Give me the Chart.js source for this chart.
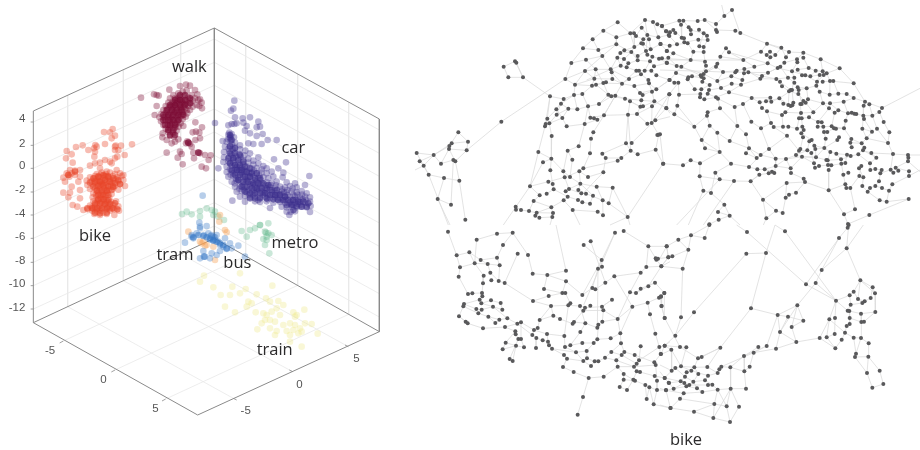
<!DOCTYPE html>
<html>
<head>
<meta charset="utf-8">
<style>
html, body { margin: 0; padding: 0; background: #fff; }
canvas { display: block; filter: blur(0.35px); }
</style>
<script src="https://cdn.jsdelivr.net/npm/chart.js@4"></script>
</head>
<body>
<canvas id="chart" width="920" height="450"></canvas>
<script>
// all values, in units of a third of a pixel
const zTicks = ["4", "2", "0", "-2", "-4", "-6", "-8", "-10", "-12"];
const zTickHeights = [366, 436, 505, 576, 645, 715, 787, 857, 927];
const floorTicks = ["-5", "0", "5", "-5", "0", "5"];
const clusterNames = ["walk", "car", "bike", "tram", "bus", "metro", "train", "bike"];

const walkPoints = [423,293,462,283,470,285,476,287,508,269,540,258,558,254,570,257,585,270,592,283,600,298,605,308,598,318,606,325,470,318,464,345,
520,285,535,280,548,275,560,272,575,285,585,295,510,295,525,295,538,290,552,288,565,292,578,302,595,300,505,308,518,305,532,303,545,300,558,302,572,310,590,315,497,318,512,318,525,315,538,312,552,312,565,318,578,320,490,330,503,328,517,328,530,325,543,323,556,325,570,330,484,342,497,340,510,338,523,338,537,335,550,335,562,340,478,352,491,352,504,350,517,350,530,348,544,347,557,350,483,364,496,362,509,362,522,360,535,360,548,358,490,375,503,374,516,372,529,372,542,370,497,386,510,384,523,384,536,380,550,378,488,400,505,396,518,396,530,392,487,412,510,408,522,410,500,420,525,425,535,418,515,430,
530,310,540,320,525,335,515,345,535,345,520,320,545,335,510,365,525,370,530,355,505,375,540,300,550,305,528,298,515,312,500,335,495,350,512,355,540,352,552,320,
534,296,546,308,522,308,508,322,528,318,542,328,518,334,505,345,530,338,548,342,496,358,516,358,532,365,512,378,526,380,504,390,520,400,558,312,568,300,560,330,
586,367,606,382,588,395,578,397,598,398,600,415,565,428,558,430,570,432,586,420,575,440,500,458,540,455,533,473,548,493,580,458,596,458,600,460,615,465,632,466,626,480,605,500,618,505,582,475,545,462,562,424];
const walkCore = [540,285,555,285,570,295,525,300,540,300,555,300,570,310,510,315,525,315,540,315,555,315,500,330,515,330,530,330,545,330,490,345,505,345,520,345,535,345,550,345,490,360,505,360,520,360,535,360,495,375,510,375,525,375,505,390,520,390,510,405,525,405,565,428,595,458];
const carPoints = [703,302,700,326,693,332,705,352,728,355,750,352,730,368,740,378,775,365,770,382,780,380,703,372,685,376,695,372,710,370,645,369,735,392,750,400,770,408,788,402,803,420,830,420,668,423,745,430,760,432,785,432,822,478,858,487,835,505,928,528,697,602,655,505,
688,398,695,402,692,410,685,404,702,412,680,425,692,422,705,428,720,436,675,440,690,438,705,442,720,448,736,452,672,456,688,454,703,458,718,462,733,466,750,460,672,472,688,470,700,474,715,476,730,480,745,476,760,482,775,472,670,486,685,484,700,488,715,490,730,492,745,488,760,494,775,490,790,498,680,500,695,498,710,502,725,504,740,500,755,506,770,504,785,508,800,505,680,516,695,514,710,518,725,516,740,518,755,516,770,520,785,518,800,520,815,515,850,518,685,530,700,528,715,532,730,530,745,532,760,530,775,534,790,532,805,534,820,530,848,532,695,545,710,543,725,547,740,545,755,547,770,545,785,549,800,547,815,549,830,545,860,547,885,550,705,560,720,558,735,562,750,560,765,562,780,560,795,564,810,562,825,564,840,560,855,562,870,558,890,562,915,555,710,575,725,573,740,577,755,575,770,577,785,575,800,579,815,577,830,579,845,575,860,577,875,575,890,577,905,573,920,580,720,590,735,588,750,592,765,590,780,592,795,590,810,594,825,592,840,594,855,590,870,592,885,590,900,592,915,590,930,592,735,605,765,604,780,606,800,604,820,608,840,606,855,608,870,606,885,608,900,606,915,608,930,605,810,624,845,620,860,622,875,620,890,622,905,620,920,622,932,618,860,635,872,636,885,634,930,636,868,645,
700,480,712,510,728,525,742,540,758,555,772,570,788,585,803,598,818,585,832,598,848,600,862,585,878,600,893,612,908,598,720,500,735,515,750,530,765,540,780,552,795,570,810,570,825,573,838,585,852,578,866,610,880,615,705,495,690,490,700,520,715,540,730,555,745,570,760,585,775,600,880,585,895,600,
692,524,708,536,722,520,736,538,750,552,766,552,782,540,798,556,812,555,828,556,846,568,862,570,878,566,892,584,906,584,918,600,902,614,888,600,874,612,858,598,842,582,826,586,804,584,790,578,776,566,762,570,748,584,732,570,718,566,704,550,690,508,706,506,718,510,732,510,748,520,762,512,778,526,694,464,708,470,722,470,686,446,698,448,690,414,684,418,696,432];
const carCore = [690,405,695,420,690,440,705,445,690,460,705,460,720,465,685,475,700,475,715,480,730,485,690,490,705,495,720,495,735,500,750,505,695,510,710,510,725,510,740,515,755,520,770,520,705,525,720,525,735,530,750,530,765,535,780,535,715,540,730,545,745,545,760,550,775,550,790,550,805,555,725,560,740,560,755,565,770,565,785,565,800,565,815,570,830,570,735,575,750,580,765,580,780,580,795,580,810,585,825,585,840,585,855,590,750,595,765,595,780,595,800,595,820,598,835,600,850,600,865,600,880,600,895,605,910,605,925,610,860,615,875,615,890,618,905,620,920,620,880,630];
const bikePoints = [312,396,338,387,330,397,345,407,335,415,396,433,363,437,347,437,355,450,374,465,286,435,282,445,248,436,228,441,200,453,215,463,198,475,218,488,265,450,315,432,
270,497,285,490,300,488,315,480,330,485,345,475,352,470,335,490,345,450,345,440,360,520,350,510,370,525,375,558,320,515,300,505,283,470,285,455,290,440,
190,533,200,520,210,510,225,512,240,510,215,520,205,525,225,525,195,545,240,530,235,545,208,530,190,578,210,578,240,570,205,592,240,595,218,615,232,620,215,560,
290,522,305,518,318,522,330,518,345,522,270,532,285,528,298,532,312,528,325,532,338,528,352,532,365,528,260,542,275,544,288,540,300,544,315,540,328,544,340,540,355,544,370,540,262,555,278,553,290,557,305,553,318,557,332,553,345,557,360,553,270,567,285,565,298,569,312,565,325,569,340,565,355,569,280,580,295,578,308,582,322,578,335,582,278,592,290,590,303,594,316,590,328,594,280,604,293,602,306,606,320,602,333,606,348,604,270,617,285,615,298,619,312,615,325,619,340,615,355,619,250,630,263,628,277,632,290,628,303,632,317,628,330,632,343,628,357,632,283,642,300,645,320,642,343,645,
295,530,310,535,322,528,305,545,318,548,330,538,295,550,310,558,325,562,300,565,315,572,305,585,318,585,295,600,312,598,300,610,318,610,285,622,305,625,322,622,340,625,275,622,292,635,310,638,
302,524,316,530,282,536,296,542,336,548,348,538,284,548,300,555,312,550,338,560,292,572,306,575,320,572,288,584,300,590,312,604,326,608,290,610,278,625,298,628,328,628];
const bikeCore = [280,535,295,530,310,525,325,530,340,535,355,540,270,548,285,545,300,545,315,540,330,545,345,550,360,552,280,560,295,558,310,555,325,558,340,560,290,572,305,572,320,572,335,570,295,585,310,585,325,585,295,598,310,598,325,600,285,610,300,610,315,612,330,612,345,610,262,625,277,625,292,625,307,625,322,625,337,625,352,628,285,638,300,640,320,638,205,525,225,515];
const busPoints = [608,587,598,668,620,678,600,680,555,728,575,710,580,715,590,700,600,685,612,705,625,700,630,715,640,710,645,720,650,705,655,725,660,735,670,740,680,747,695,745,715,737,690,730,675,715,600,775,615,770,610,753,630,775,635,760,650,765,660,753,735,770,575,705,635,705,645,712,640,720,632,708];
const busCore = [580,712,595,705,610,708,620,712,630,718,640,722,650,725,660,730,670,735,680,745,612,770];
const tramPoints = [660,645,658,665,565,695,600,725,610,725,620,735,605,730,615,737,675,690,680,697,645,780,640,740];
const metroPoints = [546,642,560,635,575,643,600,633,620,625,635,630,645,635,640,645,655,650,672,660,600,650,780,675,805,670,725,693,740,710,750,690,765,685,780,675,795,695,805,700,815,705,790,717,800,720,795,735,808,760,800,710,798,698];
const trainPoints = [612,827,600,845,640,862,720,820,817,857,697,860,737,867,662,885,690,885,720,880,770,883,798,895,745,905,755,910,740,920,675,920,705,937,767,937,810,905,835,903,850,915,790,940,800,945,815,935,830,925,840,945,880,937,890,945,913,929,795,960,810,960,785,970,825,965,850,975,870,970,885,975,900,985,915,970,935,972,953,1001,772,988,860,993,880,990,895,1000,870,1005,905,995,825,1005,810,985,830,993,885,950,870,1025,905,1040];

const nodesTopLeft = [623,67,580,92,548,118,619,112,619,133,519,145,565,150,577,168,528,179,484,189,661,100,672,100,678,108,695,83,705,60,729,66,742,73,756,78,769,94,776,105,712,105,717,118,700,118,745,112,752,132,694,130,699,131,771,153,673,141,664,156,643,151,631,159,622,173,642,177,655,190,632,197,650,202,683,168,683,181,708,153,712,164,722,148,727,170,720,184,747,176,771,189,732,199,679,212,687,212,693,223,704,212,724,212,739,226,715,240,717,250,778,240,602,208,605,217,557,208,525,213,466,237,553,236,607,237,657,237,495,254,546,257,558,254,580,249,588,247,636,251,673,258,726,275,739,268,778,283,690,279,698,285,420,289,492,285,517,282,595,284,604,289,616,287,461,297,453,311,645,296,660,304,694,301,733,304,567,312,534,319,439,328,475,326,502,328,691,320,699,319,726,319,769,324,440,344,582,346,654,344,681,342,412,356,457,354,541,353,552,355,562,359,418,370,407,372,405,379,470,379,524,372,736,361,725,369,712,371,550,397,425,408,746,404,742,405,543,416,506,439,648,430,665,429,385,456,473,452,540,460,662,452,683,463,737,449,577,461,587,474,634,474,623,482,424,476,487,479,399,487,759,491,421,511,460,514,508,514,520,505,580,517,464,532,480,531,534,531,415,545,428,552,511,551,360,559,431,568,560,560,608,563,477,567,467,574,505,570,514,580,528,581,410,581,389,586,473,590,549,587,461,601,504,600,371,603,517,607,540,611,578,601,596,610,424,622,317,620,318,629,333,630,357,633,380,638,488,630,429,639,563,635,376,647,388,653,427,651,579,646,653,651,
145,397,174,425,125,430,118,438,117,447,170,451,71,465,20,459,29,484,41,497,93,491,130,480,136,484,56,524,102,534,148,542,83,597,123,614,166,659,315,184,319,188,281,200,295,232,339,232,274,365];
const nodesTopRight = [216,30,193,48,168,72,134,60,113,63,58,62,70,62,63,74,6,78,86,82,92,90,117,89,168,90,171,96,226,92,241,99,18,94,30,97,40,90,46,99,28,108,93,103,131,100,141,107,143,120,65,113,72,115,73,127,83,130,115,119,118,139,131,141,131,156,100,155,1,132,29,137,51,133,20,153,40,160,6,175,25,173,20,188,92,180,181,170,198,145,207,157,135,185,138,197,172,191,168,200,250,180,303,155,321,131,364,143,387,156,430,158,320,165,330,155,331,172,346,165,378,172,373,188,323,190,411,178,412,187,430,173,482,178,539,205,50,198,64,200,353,204,361,200,283,200,230,212,226,217,253,207,265,217,252,220,189,216,138,214,131,222,122,226,124,230,48,219,85,232,83,238,96,229,29,240,43,248,55,248,131,235,127,245,172,243,214,229,247,240,215,251,243,254,306,228,301,236,324,218,396,214,413,209,446,204,467,212,488,214,500,220,479,225,491,225,426,226,436,226,451,229,403,233,384,233,349,237,360,245,403,248,471,245,488,245,510,243,520,243,581,250,149,255,104,268,124,268,147,270,183,264,207,277,28,283,57,284,121,282,143,281,120,292,133,298,168,292,174,296,275,294,366,259,392,270,396,270,387,274,413,262,416,270,415,282,440,265,469,257,479,275,509,284,535,281,560,282,581,294,331,293,358,295,299,307,318,304,334,305,430,303,444,298,425,312,437,308,489,310,510,310,551,305,615,305,611,317,628,313,666,324,249,312,224,321,52,317,19,325,180,325,306,324,321,334,370,311,385,315,392,318,400,308,397,316,421,312,507,325,524,338,535,331,564,340,575,338,583,341,589,342,610,347,637,347,658,336,143,337,141,347,43,343,376,337,366,345,423,339,460,337,447,352,425,355,417,355,557,362,671,366,612,357,103,380,149,377,232,378,274,365,333,369,341,381,369,380,385,380,411,386,427,380,431,390,474,366,485,367,473,380,490,380,515,379,522,385,528,386,552,385,492,396,502,396,607,386,636,395,651,386,688,397,172,398,258,403,303,385,381,407,424,400,429,412,0,403,125,420,209,423,455,420,448,424,537,412,532,420,497,416,574,417,620,415,571,428,605,430,684,429,135,445,267,445,327,447,421,447,417,452,463,437,466,447,442,451,454,459,493,444,575,442,613,443,609,451,634,459,511,456,529,461,179,456,258,460,302,465,290,474,408,465,468,472,426,470,503,481,499,480,543,478,561,464,572,468,595,463,649,473,699,462,744,465,745,473,744,484,347,476,378,477,92,481,10,491,69,496,120,490,213,491,267,501,292,508,347,498,314,508,392,505,393,519,462,490,465,503,477,498,504,495,514,496,544,491,556,489,604,498,597,505,630,490,631,510,646,507,665,510,692,509,700,518,715,512,707,503,747,514,506,510,550,524,565,518,598,528,610,532,661,520,298,524,326,520,343,519,336,515,166,518,119,529,179,538,222,543,272,544,431,536,435,546,380,549,607,558,657,544,646,558,630,564,623,575,666,564,697,553,687,572,747,528,556,553,559,564,571,564,506,571,130,572,153,579,408,578,387,584,377,593,309,599,659,601,680,605,746,597,193,614,174,636,209,647,176,659,148,673,319,655,348,632,368,639,585,628,552,643,628,645,564,672];
const nodesBottomLeft = [114,20,200,44,261,26,308,23,279,60,140,91,178,82,323,86,354,90,212,105,261,98,194,115,233,117,269,121,150,127,241,143,221,152,146,155,244,166,266,168,284,174,219,175,368,146,412,150,468,137,468,169,402,192,174,207,187,205,216,204,217,214,209,224,214,235,243,226,162,237,160,244,272,234,249,245,199,252,215,254,277,254,205,265,369,228,416,213,457,204,466,204,423,243,481,235,475,241,510,243,517,210,147,274,235,275,292,280,268,284,167,290,173,295,256,294,219,310,285,306,389,285,430,272,450,282,322,296,333,292,316,319,317,328,372,315,383,309,367,330,411,327,379,339,325,342,333,342,398,346,414,350,287,353,417,361,318,362,342,367,278,373,378,369,426,371,463,333,465,366,481,361,511,321,517,354,526,295,488,296,492,291,551,354,562,343,602,340,562,308,565,299,577,290,623,282,631,325,633,355,604,381,635,390,643,381,498,382,530,378,462,390,471,401,299,402,308,408,531,400,520,408,554,409,565,409,585,398,619,406,623,425,543,423,459,426,491,441,536,459,581,455,519,516,503,569,521,60,542,49,615,23,641,18,575,105,564,131,576,125,613,154,586,173,547,189,556,193,606,224,525,248,520,257,541,242,576,245,580,256,660,202,678,204,692,191,692,143,709,126,715,64,770,64,737,100,744,101,739,104,775,97,754,124,735,173,715,184,763,204,753,214,747,218,713,233,755,243,667,245,720,268,764,279,736,326,692,364,748,366,764,362,752,387,674,390,687,406,680,416,672,425,733,412,737,420,680,439,690,441,641,447,641,464,670,464,675,467,734,453,764,459,741,467,776,473,706,480,718,487,629,486,651,495,741,495,768,495,710,522,731,538,781,549];
const nodesBottomRight = [148,0,261,21,375,19,563,8,566,0,93,31,55,44,134,39,537,39,560,70,20,64,85,74,259,86,318,84,25,97,37,94,4,124,68,131,485,135,601,166,438,178,467,174,638,187,581,200,569,211,645,205,13,204,3,215,594,222,632,219,528,227,614,229,607,234,572,239,412,241,4,243,273,250,102,262,563,257,568,258,646,261,353,270,603,266,384,275,63,277,14,279,569,279,525,279,508,283,430,287,604,291,612,290,569,297,560,303,395,306,360,321,555,323,524,327,500,337,479,339,46,332,581,338,603,339,545,344,409,351,626,355,14,362,60,366,79,367,181,368,320,363,295,366,348,371,526,370,34,374,281,383,3,387,588,386,252,393,585,396,625,395,125,396,114,400,269,425,184,425,178,433,173,444,63,424,103,427,46,429,35,437,142,426,211,427,253,439,94,437,80,442,115,447,144,452,75,455,659,437,621,444,14,459,135,466,62,469,100,470,27,474,73,474,157,479,144,480,88,480,79,484,670,477,41,491,111,490,18,496,173,494,212,491,258,491,637,488,127,501,71,505,60,521,163,537,200,544,237,545,32,549,102,560,160,579,210,591];

const linksTopLeft = [[281,200,315,184,339,232,295,232,281,200],[319,188,339,232,420,289],[170,451,274,365,466,237,525,213],[20,459,71,465,125,430,174,425,170,451,136,484,148,542,166,659],[145,397,118,438,117,447,136,484,130,480,93,491,71,465,29,484,41,497,56,524,102,534,148,542],[20,459,56,524,115,675],[15,510,41,497,71,465,118,438],[93,491,117,447,170,451],[145,397,174,425],[102,534,83,597,123,614,130,480],[83,597,120,675],
[420,289,412,356,405,379,385,456,360,559,318,620,280,675],[420,289,461,297,439,328,412,356],[461,297,492,285,517,282,534,319,524,372,506,439,473,452,487,479],[466,237,495,254,492,285,453,311,440,344,418,370,425,408,424,476,421,511,428,552],[440,344,475,326,502,328,534,319,541,353,582,346,654,344,681,342,691,320],[457,354,470,379,524,372,562,359,582,346,616,287],[418,370,457,354,439,328],[475,326,457,354],[534,319,567,312,595,284,580,249,557,208,528,179,484,189,466,237],[484,189,519,145,548,118,580,92,623,67,661,100,705,60,729,66,769,94],[580,92,619,112,661,100],[548,118,565,150,577,168,528,179],[519,145,565,150,619,133,577,168,525,213,495,254,546,257,580,249,636,251,657,237],[619,112,619,133,664,156,631,159],[577,168,602,208,605,217,607,237,636,251,673,258,690,279],[525,213,557,208,602,208,632,197,650,202,679,212],[553,236,546,257,517,282],[553,236,607,237],[604,289,645,296,694,301,733,304],[558,254,595,284],[636,251,616,287,582,346,550,397,543,416,540,460,520,505,508,514,511,551,505,570],[654,344,662,452,648,430,577,461],[665,429,735,361,769,324],[654,344,648,430],[733,304,726,319,725,369,746,404],[691,320,645,296],[681,342,726,319,778,283],[739,268,690,279],[726,275,733,304],
[577,461,587,474,634,474,662,452,683,463,737,449,746,404],[587,474,580,517,534,531,508,514,464,532,415,545],[623,482,520,505],[759,491,653,651],[737,449,759,491],[580,517,510,590],[385,456,424,476],[399,487,424,476,460,514,464,532,477,567,511,551,560,560,608,563,596,610,653,651],[399,487,360,559,389,586,371,603,357,633,333,630,317,620],[415,545,360,559],[410,581,431,568,428,552],[431,568,473,590,461,601,424,622,429,639,427,651],[371,603,424,622,380,638,376,647],[473,452,460,514,480,531,511,551,549,587,540,611,517,607,504,600,473,590],[487,479,480,531],[477,567,514,580,528,581,578,601,596,610],[560,560,578,601,579,646,563,635,488,630,461,601],[608,563,653,651,660,675],[420,289,405,379],[488,630,510,675],[427,651,420,675],[653,651,600,675],[388,653,427,651],[333,630,380,638,429,639],
[661,100,673,141,664,156,642,177,622,173,631,159,643,151,673,141,694,130,712,105,705,60],[678,108,700,118,694,130,708,153,722,148,717,118,712,105],[695,83,712,105,745,112,776,105],[699,131,722,148,752,132,771,153],[745,112,752,132],[683,168,664,156],[683,168,708,153,712,164,727,170,747,176,771,189],[683,181,720,184,732,199,771,189],[642,177,655,190,650,202],[632,197,622,173],[655,190,683,181,683,168],[679,212,704,212,724,212,739,226,778,240],[687,212,693,223,715,240,717,250,726,275],[704,212,720,184],[657,237,693,223],[673,258,717,250,739,268,778,240],[602,208,657,237],[636,251,679,212],[530,240,602,208],[694,301,698,285],[660,304,691,320],[699,319,733,304,769,324,780,340],[712,371,681,342],[736,361,780,350],[725,369,778,283],
[712,371,725,369,736,361],[698,285,739,268],[694,301,691,320],[660,304,654,344],[645,296,616,287,595,284],[604,289,567,312],[502,328,492,285],[541,353,552,355,562,359],[453,311,475,326],[605,217,636,251],[588,247,558,254],[495,254,553,236,557,208],[525,213,553,236],[622,173,602,208],[642,177,632,197],[664,156,683,181],[708,153,712,105],[729,66,745,112],[695,83,678,108],[672,100,673,141],[769,94,776,105]];
const linksTopRight = [[216,30,193,48,168,72,134,60,113,63,70,62,58,62,6,78],[193,48,185,15],[216,30,240,99],[168,72,171,96,168,90,226,92,241,99,321,131,387,156,430,158,482,178,539,205,581,250,615,305,666,324,780,265],[134,60,168,90],[70,62,86,82,92,90,131,100,143,120,115,119,73,127,65,113,40,90,18,94,6,78],[63,74,65,113],[117,89,141,107],[131,100,118,139,131,141,131,156,100,155],[143,120,131,141],[28,108,51,133,29,137,20,153,40,160,25,173,20,188,50,198],[1,132,29,137],[51,133,83,130,100,155,92,180,64,200,48,219],[40,160,92,180,135,185],[131,156,135,185,138,197,122,226,85,232,48,219],[198,145,181,170,172,191,138,214],[198,145,207,157,250,180,303,155,321,131,364,143,378,172,373,188,353,204,324,218,306,228],[303,155,320,165,330,155,346,165,331,172,323,190,353,204],[364,143,346,165],[250,180,283,200,253,207,230,212,189,216,168,200],[283,200,323,190],[181,170,250,180],[207,157,323,190],[0,180,100,180,250,180],[0,210,138,214,189,216,265,217,324,218],[430,158,411,178,412,187,396,214,403,233,384,233,349,237,306,228],[387,156,378,172],[430,173,446,204,467,212,488,214,500,220,510,243,581,250],[482,178,488,214,479,225,471,245,469,257,479,275,509,284,535,281,560,282,581,294,615,305],[539,205,500,220],[413,209,426,226,451,229,479,225],[396,214,436,226,471,245],[361,200,384,233,403,248,413,262,440,265,469,257],[349,237,366,259,387,274,415,282,437,308],[360,245,392,270,416,270,440,265],[403,233,396,270,358,295,318,304,299,307],
[29,240,43,248,55,248,28,283,19,325,43,343],[55,248,57,284,52,317,43,343,103,380,125,420,135,445,179,456],[48,219,29,240,0,260],[85,232,96,229,131,235,127,245,149,255,124,268,104,268,83,238],[131,222,172,243,183,264,207,277,275,294,299,307],[172,243,214,229,247,240,243,254,215,251,183,264],[226,217,214,229],[124,268,121,282,120,292,133,298,143,281,147,270,149,255],[121,282,57,284],[133,298,168,292,174,296,180,325,143,337,141,347,149,377,172,398,179,456],[174,296,224,321,249,312,275,294],[52,317,103,380],[207,277,168,292],[141,347,103,380],[224,321,232,378,258,403,267,445,258,460],[249,312,274,365,303,385,333,369,341,381,369,380,385,380,411,386,427,380,431,390,424,400,429,412,421,447],[306,324,321,334,333,369],[299,307,306,324],[318,304,334,305,358,295,370,311,385,315,392,318,400,308,397,316,376,337,366,345,369,380],[331,293,334,305],[430,303,444,298,489,310,510,310,551,305,581,294],[425,312,421,312,423,339,417,355,411,386],[437,308,460,337,447,352,425,355,427,380],[489,310,507,325,524,338,535,331,564,340,575,338,583,341,589,342,610,347,637,347,658,336,666,324],[510,310,535,331],[551,305,564,340],[611,317,610,347,607,386,620,415,605,430,613,443],[628,313,637,347,651,386,684,429,699,462,744,465,780,465],[658,336,671,366,688,397,684,429],[612,357,636,395,620,415],[557,362,552,385,515,379,490,380,473,380,474,366,447,352],[485,367,490,380,492,396,497,416,493,444],[502,396,522,385,528,386,552,385,574,417,571,428,575,442],[537,412,532,420,493,444,466,447,454,459],[455,420,448,424,442,451,417,452,408,465,378,477,347,476,302,465],[463,437,466,447,468,472,426,470,408,465],[381,407,341,381],[381,407,327,447,347,476,347,498],[424,400,455,420,463,437,493,444,511,456,529,461,561,464,572,468,595,463,613,443],[258,460,290,474,302,465,267,501,292,508,314,508,336,515,343,519,326,520,298,524,272,544],[327,447,302,465],[290,474,267,445,209,423,172,398],[213,491,267,501],[92,481,69,496,10,491],[92,481,120,490,119,529,179,538,222,543,272,544,298,524],[120,490,179,456,213,491,166,518,179,538],[125,420,179,456],[0,403,10,491],[347,498,392,505,393,519,431,536,435,546,380,549,377,593,387,584,408,578,435,546],[392,505,426,470],[347,498,378,477,426,470,462,490,465,503,477,498,504,495,514,496,544,491,556,489,561,464],[468,472,503,481,499,480,514,496,506,510,506,571],[543,478,529,461],[503,481,543,478,572,468],[544,491,550,524,556,553,559,564,571,564,598,528,604,498,597,505,610,532,607,558,623,575,630,564,646,558,657,544,661,520,665,510,646,507,631,510,630,490,649,473,634,459,609,451],[565,518,550,524],[630,490,595,463],[692,509,700,518,715,512,707,503,747,514,747,528,697,553,687,572,666,564,646,558],[699,462,692,509,661,520],[744,484,707,503],[745,473,744,484,780,515],[747,528,780,510],[435,546,506,571,556,553],[506,571,552,643,564,672],[571,564,585,628,552,643],[659,601,680,605,746,597],[687,572,680,605],[623,575,659,601],[746,597,628,645,564,672],[130,572,153,579,193,614,209,647,176,659,148,673],[119,529,130,572,85,675],[166,518,153,579],[193,614,174,636,209,647,240,675],[272,544,309,599,319,655,310,675],[380,549,309,599,348,632,368,639,377,593],[319,655,348,632],[222,543,130,675],[179,538,50,675],
[6,175,92,180],[25,173,50,198,131,222],[64,200,122,226],[168,200,131,222],[189,216,172,243],[230,212,214,229],[252,220,247,240],[265,217,306,228],[253,207,301,236],[243,254,301,236],[207,277,243,254],[301,236,349,237],[324,218,361,200],[373,188,411,178],[353,204,396,214],[413,209,446,204],[467,212,451,229],[491,225,471,245],[488,245,520,243,535,281],[510,243,509,284],[479,275,489,310],[440,265,444,298],[416,270,425,312],[396,270,400,308],[387,274,385,315],[331,293,318,304],[275,294,331,293],[358,295,392,318],[321,334,366,345],[376,337,423,339,460,337,489,310],[507,325,474,366],[524,338,515,379],[557,362,564,340],[552,385,557,362],[607,386,636,395],[605,430,571,428],[574,417,605,430],[620,415,684,429],[609,451,649,473],[634,459,699,462],[543,478,544,491],[511,456,503,481],[493,444,468,472],[454,459,462,490],[442,451,408,465],[426,470,468,472],[378,477,392,505],[314,508,347,498],[343,519,347,498],[267,445,302,465],[303,385,327,447],[381,407,417,452],[232,378,209,423],[149,377,125,420],[180,325,232,378],[143,281,168,292],[183,264,147,270]];
const linksBottomLeft = [[114,20,140,91,150,127,146,155,174,207],[200,44,261,26,308,23,279,60,261,98,269,121,266,168],[200,44,194,115,221,152,219,175,216,204],[140,91,178,82,212,105,261,98],[178,82,194,115,233,117,241,143,266,168,284,174],[150,127,194,115],[212,105,233,117,269,121],[323,86,284,174,369,228],[354,90,368,146,412,150,468,137],[354,90,308,23],[412,150,402,192,457,204,468,169,412,150],[468,137,438,0],[468,169,517,210,575,105,615,23],[416,213,369,228,423,243,475,241,510,243,525,248,576,245,606,224],[416,213,457,204,466,204,481,235],[517,210,547,189,556,193,586,173,613,154,692,143,709,126,715,64,770,64],[575,105,564,131,547,189],[576,125,564,131,562,308],[521,60,575,105,576,125],[542,49,586,173],[615,23,521,240],[641,18,715,64],
[174,207,187,205,216,204,217,214,209,224,214,235,243,226,272,234,277,254,249,245,215,254,199,252,162,237,160,244,147,274,167,290,173,295,219,310,285,306,322,296,333,292,372,315,411,327,414,350],[162,237,209,224],[160,244,205,265,235,275,268,284,292,280,322,296],[214,235,249,245,292,280],[147,274,173,295],[205,265,215,254],[256,294,268,284],[235,275,256,294],[285,306,316,319,317,328,325,342,333,342,333,292],[316,319,287,353,278,373,318,362,342,367,333,342],[299,402,308,408,318,362],[287,353,318,362],[325,342,299,402],[372,315,383,309,389,285,430,272,450,282,488,296,492,291,526,295,562,308],[367,330,379,339,398,346,414,350,417,361,426,371,462,390,471,401,459,426,491,441,536,459,581,455,623,425],[367,330,372,315],[379,339,378,369],[389,285,423,243,430,272],[322,296,367,330],[475,241,463,333,465,366,481,361,511,321,526,295],[463,333,411,327],[510,243,526,295],[481,361,517,354,551,354,562,343,602,340,631,325,623,282,580,256,520,257,488,296],[465,366,498,382,530,378,551,354],[426,371,498,382,520,408],[530,378,531,400,520,408],[471,401,520,408,543,423,554,409,565,409,585,398,604,381,635,390,619,406,623,425,641,447,641,464,629,486],[531,400,554,409],[536,459,519,516,503,569],[585,398,619,406],[562,343,565,299,577,290,623,282],[541,242,520,257],[606,224,576,245,580,256,577,290],[613,154,667,245,623,282],[660,202,678,204,692,191,735,173,763,204,753,214,755,243,764,279],[660,202,623,282],[678,204,715,184,735,173],[692,143,660,202],[709,126,754,124,737,100,715,64],[770,64,775,97,754,124,780,110],[739,104,744,101,775,97],[715,184,754,124],[713,233,667,245,631,325,633,355,643,381,674,390,687,406,680,416,672,425,680,439,690,441,734,453,764,459,776,473],[713,233,747,218,753,214],[720,268,736,326,748,366,752,387,733,412,737,420,741,467,741,495,731,538,781,549],[720,268,713,233],[692,364,687,406,748,366,764,362,780,350],[633,355,604,381],[674,390,733,412],[623,425,672,425],[641,447,670,464,675,467,706,480,718,487,741,495,768,495],[651,495,670,464],[629,486,651,495],[680,439,670,464],[710,522,718,487,731,538],[710,522,706,480],[768,495,781,549],[641,464,675,467],[619,406,672,425,737,420],[635,390,680,416]];
const linksBottomRight = [[148,0,93,31,55,44,20,64,25,97],[134,39,93,31,85,74,68,131,63,277,46,332,14,362],[55,44,85,74,37,94,25,97,4,124,68,131],[148,0,134,39],[261,21,230,0],[261,21,438,178,528,227],[375,19,345,0],[375,19,528,227],[318,84,345,0],[318,84,259,86,102,262,46,332],[318,84,273,250,353,270,384,275,430,287,412,241,353,270],[273,250,181,368,114,400,60,366],[563,8,537,39,485,135,467,174,412,241,360,321,348,371,281,383,184,425],[566,0,560,70,601,166,581,200,569,211,528,227],[485,135,560,70,610,0],[537,39,438,178],[467,174,528,227,508,283],[601,166,638,187,645,205,646,261,612,290],[601,166,594,222,614,229,632,219,638,187],[581,200,594,222,607,234,572,239,563,257,568,258,569,279,569,297,560,303],[601,166,645,205],[528,227,563,257,603,266,604,291],[528,227,525,279,524,327,500,337,508,283,555,323,581,338,588,386,585,396,625,395,626,355,603,339,604,291],[569,211,572,239],[603,266,646,261],[569,279,604,291],[479,339,508,283],[479,339,409,351,348,371],[409,351,395,306,430,287],[384,275,360,321,409,351],[353,270,360,321],[395,306,412,241],[500,337,526,370,545,344,555,323],[479,339,526,370],[581,338,603,339],[625,395,621,444,637,488,670,477,659,437,625,395],[585,396,621,444],[603,339,588,386],[560,303,555,323],
[353,270,320,363,252,393,211,427,184,425],[295,366,252,393],[320,363,281,383,269,425,253,439,258,491],[252,393,253,439,211,427,212,491,258,491],[181,368,125,396,114,400,103,427,63,424,46,429,35,437,14,459],[181,368,142,426,173,444,144,452,135,466,157,479,173,494,212,491],[178,433,184,425],[20,64,0,100],[14,279,13,204,3,215,4,243,14,279,60,366],[14,362,60,366,79,367,63,424],[34,374,14,362,3,387],[34,374,63,424,94,437,80,442,75,455,62,469,73,474,79,484,88,480,100,470,115,447,103,427],[46,429,75,455,100,470,135,466],[94,437,144,452],[142,426,103,427],[27,474,62,469,14,459,0,440],[27,474,41,491,18,496,0,490],[41,491,79,484,111,490,127,501,71,505,60,521,32,549,0,540],[88,480,144,480,157,479],[18,496,71,505],[60,521,163,537,173,494,127,501],[173,494,200,544,212,491,237,545,210,591,200,544,163,537,160,579,210,591],[32,549,102,560,160,579],[102,560,163,537],[212,491,160,579],[0,420,35,437],[0,390,34,374],[34,374,35,437],[100,470,111,490],[73,474,41,491]];

const frameLines = [[100,333,643,84,1138,357,1138,995,593,1245,100,968,100,333],[643,84,643,715],[100,968,643,715,1138,995]];
const floorGrid = [[190,1023,737,768],[345,1110,893,856],[497,1197,1046,943],[700,1195,203,920],[878,1115,370,842],[1045,1040,542,762]];
const wallGrid = [[203,286,203,920],[370,209,370,842],[542,130,542,762],[737,136,737,768],[893,222,893,856],[1046,306,1046,943]];
const floorTickMarks = [[190,1023,179,1029],[345,1110,334,1116],[497,1197,486,1203],[700,1195,710,1200],[878,1115,868,1110],[1045,1040,1035,1035]];

const pairs = (flat, dx = 0, dy = 0) => {
    let out = [];
    for (let i = 0; i < flat.length; i += 2) {
        out.push({ x: flat[i] + dx, y: flat[i + 1] + dy });
    }
    return out;
};

const joinLines = (lines, dx = 0, dy = 0) => {
    let out = [];
    lines.forEach((line) => {
        out.push(...pairs(line, dx, dy));
        out.push({ x: NaN, y: NaN });
    });
    return out;
};

const zGrid = zTickHeights.map((y) => [100, y, 643, y - 249, 1138, y + 24]);
const zTickMarks = zTickHeights.map((y) => [92, y, 100, y]);

const cloud = (flat, color) => ({
    data: pairs(flat),
    backgroundColor: color,
    borderWidth: 0,
    pointBorderWidth: 0,
    pointRadius: 3.3,
    pointHoverRadius: 3.3
});

const lineSet = (points, color, width) => ({
    data: points,
    showLine: true,
    spanGaps: false,
    borderColor: color,
    borderWidth: width,
    pointRadius: 0
});

// first dataset ends up on top
const datasets = [
    {
        data: [
            ...pairs(nodesTopLeft, 1230, 0),
            ...pairs(nodesTopRight, 1980, 0),
            ...pairs(nodesBottomLeft, 1230, 675),
            ...pairs(nodesBottomRight, 1980, 675)
        ],
        backgroundColor: "#59595b",
        borderWidth: 0,
        pointBorderWidth: 0,
        pointRadius: 2
    },
    lineSet([
        ...joinLines(linksTopLeft, 1230, 0),
        ...joinLines(linksTopRight, 1980, 0),
        ...joinLines(linksBottomLeft, 1230, 675),
        ...joinLines(linksBottomRight, 1980, 675)
    ], "#dcdcdc", 0.8),
    cloud(walkCore, "rgba(125,13,53,0.65)"),
    cloud(walkPoints, "rgba(125,13,53,0.36)"),
    cloud(carCore, "rgba(60,47,140,0.6)"),
    cloud(carPoints, "rgba(60,47,140,0.36)"),
    cloud(bikeCore, "rgba(232,70,42,0.6)"),
    cloud(bikePoints, "rgba(232,70,42,0.36)"),
    cloud(busCore, "rgba(55,120,198,0.55)"),
    cloud(busPoints, "rgba(55,120,198,0.36)"),
    cloud(tramPoints, "rgba(245,160,85,0.4)"),
    cloud(metroPoints, "rgba(90,180,135,0.32)"),
    cloud(trainPoints, "rgba(236,232,135,0.34)"),
    lineSet(joinLines(frameLines), "#8a8a8a", 1),
    lineSet(joinLines([...zTickMarks, ...floorTickMarks]), "#8a8a8a", 0.8),
    lineSet(joinLines([...zGrid, ...wallGrid, ...floorGrid]), "#e8e8e8", 0.8)
];

const tickSpots = [[150,1053],[310,1140],[466,1225],[737,1233],[898,1154],[1069,1077]];
const zLabelHeights = [357, 430, 498, 568, 642, 710, 783, 852, 923];
const nameSpots = [[568,203],[880,445],[285,710],[525,765],[712,790],[885,730],[824,1052],[2058,1320]];

const textPlugin = {
    id: "chartText",
    afterDatasetsDraw(chart) {
        const ctx = chart.ctx;
        const xs = chart.scales.x;
        const ys = chart.scales.y;
        ctx.save();
        ctx.textBaseline = "middle";

        ctx.font = "11.5px 'Liberation Sans'";
        ctx.fillStyle = "#555555";
        ctx.textAlign = "right";
        zTicks.forEach((t, i) => {
            ctx.fillText(t, xs.getPixelForValue(76), ys.getPixelForValue(zLabelHeights[i]));
        });
        ctx.textAlign = "center";
        floorTicks.forEach((t, i) => {
            ctx.fillText(t, xs.getPixelForValue(tickSpots[i][0]), ys.getPixelForValue(tickSpots[i][1]));
        });

        ctx.font = "16.5px 'Open Sans'";
        ctx.fillStyle = "#2b2a2b";
        clusterNames.forEach((t, i) => {
            ctx.fillText(t, xs.getPixelForValue(nameSpots[i][0]), ys.getPixelForValue(nameSpots[i][1]));
        });
        ctx.restore();
    }
};

new Chart("chart", {
    type: "scatter",
    data: { datasets: datasets },
    plugins: [textPlugin],
    options: {
        responsive: false,
        animation: false,
        layout: { padding: 0, autoPadding: false },
        plugins: { legend: { display: false }, tooltip: { enabled: false } },
        scales: {
            x: { display: false, min: 0, max: 2760 },
            y: { display: false, min: 0, max: 1350, reverse: true }
        }
    }
});
</script>
</body>
</html>
